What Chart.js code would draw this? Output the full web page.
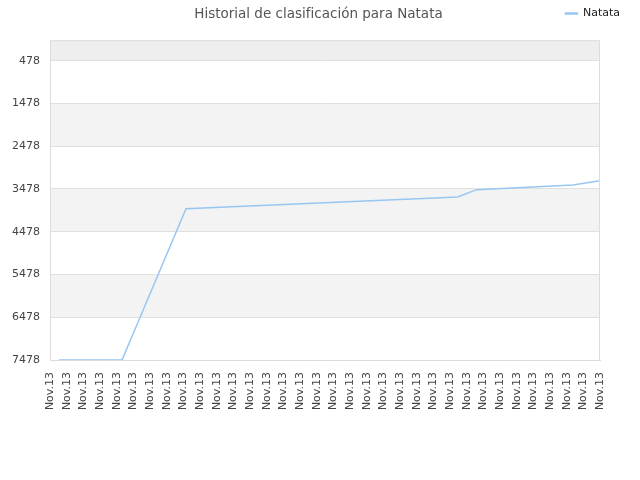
<!DOCTYPE html>
<html lang="es">
<head>
  <meta charset="UTF-8">
  <title>Historial de clasificación para Natata</title>
  <script src="https://cdn.jsdelivr.net/npm/chart.js@4.4.1/dist/chart.umd.min.js"></script>
  <style>
    html, body { margin: 0; padding: 0; background: #fff; }
    .wrap { position: relative; width: 640px; height: 480px; }
    #title {
      position: absolute; left: 0; top: 5px; width: 637px;
      text-align: center; font-family: "DejaVu Sans", sans-serif;
      font-size: 13.5px; color: #555;
    }
  </style>
</head>
<body>
<div class="wrap">
  <div id="title">Historial de clasificación para Natata</div>
  <canvas id="chart" width="640" height="480"></canvas>
</div>
<script>
  // tick labels along the bottom (one per step of the x axis)
  const xLabels = ['Nov.13', 'Nov.13', 'Nov.13', 'Nov.13', 'Nov.13', 'Nov.13', 'Nov.13', 'Nov.13', 'Nov.13',
    'Nov.13', 'Nov.13', 'Nov.13', 'Nov.13', 'Nov.13', 'Nov.13', 'Nov.13', 'Nov.13', 'Nov.13', 'Nov.13',
    'Nov.13', 'Nov.13', 'Nov.13', 'Nov.13', 'Nov.13', 'Nov.13', 'Nov.13', 'Nov.13', 'Nov.13', 'Nov.13',
    'Nov.13', 'Nov.13', 'Nov.13', 'Nov.13', 'Nov.13'];
  const yTicks = [478, 1478, 2478, 3478, 4478, 5478, 6478, 7478];

  // ranking history of Natata (position along the x axis, rank)
  const seriesName = 'Natata';
  const pos = [0.54, 4.32, 8.16, 24.46, 25.6, 31.38, 33];
  const rank = [7478, 7478, 3943, 3665, 3495, 3385, 3285];

  const lineColor = 'rgb(152, 198, 243)';
  const tickFont = { family: 'DejaVu Sans', size: 11 };

  // alternating background bands plus box outline
  const bands = {
    id: 'bands',
    beforeDraw(chart) {
      const { ctx, chartArea: a, scales: { y } } = chart;
      const edges = [y.min, ...yTicks];
      ctx.save();
      for (let i = 0; i < edges.length - 1; i++) {
        if (i % 2 === 1) continue;
        const t = y.getPixelForValue(edges[i]);
        const b = y.getPixelForValue(edges[i + 1]);
        ctx.fillStyle = i === 0 ? '#eeeeee' : '#f3f3f3';
        ctx.fillRect(a.left, t, a.right - a.left, b - t);
      }
      ctx.restore();
    },
    afterDatasetsDraw(chart) {
      const { ctx, chartArea: a } = chart;
      ctx.save();
      ctx.strokeStyle = '#dcdcdc';
      ctx.lineWidth = 1;
      ctx.strokeRect(a.left + 0.5, a.top + 0.5, a.right - a.left - 1, a.bottom - a.top);
      ctx.restore();
    }
  };

  new Chart(document.getElementById('chart'), {
    type: 'line',
    data: {
      datasets: [{
        label: seriesName,
        data: pos.map((p, i) => ({ x: p, y: rank[i] })),
        borderColor: lineColor,
        backgroundColor: lineColor,
        borderWidth: 1.5,
        pointRadius: 0,
        tension: 0
      }]
    },
    options: {
      responsive: false,
      animation: false,
      layout: { padding: { left: 0, right: 12, top: 0, bottom: 0 } },
      plugins: {
        title: { display: false },
        // empty spacer between legend and plot
        subtitle: {
          display: true,
          text: '',
          weight: 500,
          font: { size: 1 },
          padding: { top: 0, bottom: 10 }
        },
        tooltip: { enabled: false },
        legend: {
          position: 'top',
          align: 'end',
          labels: {
            boxWidth: 12,
            boxHeight: 1,
            padding: 8,
            color: '#222',
            font: tickFont
          }
        }
      },
      scales: {
        x: {
          type: 'linear',
          min: 0,
          max: xLabels.length - 1,
          afterBuildTicks(scale) {
            scale.ticks = xLabels.map((_, i) => ({ value: i }));
          },
          afterFit(scale) { scale.height = 120; },
          grid: { display: false, drawTicks: false },
          border: { color: '#dcdcdc' },
          ticks: {
            autoSkip: false,
            minRotation: 90,
            maxRotation: 90,
            padding: 12,
            color: '#444',
            font: tickFont,
            callback: (v) => xLabels[v]
          }
        },
        y: {
          reverse: true,
          min: 0,
          max: 7478,
          afterBuildTicks(scale) {
            scale.ticks = yTicks.map(v => ({ value: v }));
          },
          afterFit(scale) { scale.width = 50; },
          grid: { color: '#e0e0e0', drawTicks: false },
          border: { color: '#dcdcdc' },
          ticks: {
            padding: 10,
            color: '#444',
            font: tickFont,
            callback: (v) => String(v)
          }
        },
        // empty right margin so the plot ends at the same place as the reference
        yRight: {
          position: 'right',
          display: true,
          afterFit(scale) { scale.width = 28; },
          grid: { display: false, drawTicks: false },
          border: { display: false },
          ticks: { display: false }
        }
      }
    },
    plugins: [bands]
  });
</script>
</body>
</html>
